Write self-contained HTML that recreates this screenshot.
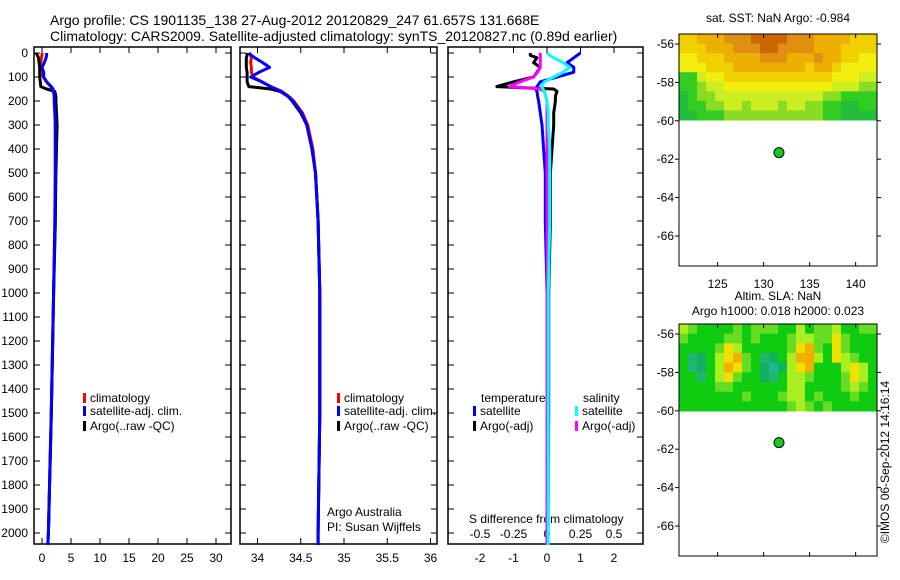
<!DOCTYPE html>
<html><head><meta charset="utf-8"><style>
body{margin:0;background:#fff}
svg{display:block;font-family:"Liberation Sans",sans-serif}
text{font-size:12px;fill:#000}
</style></head><body>
<svg id="c" width="900" height="580" viewBox="0 0 900 580">
<text x="50" y="25" style="font-size:14px">Argo profile: CS 1901135_138 27-Aug-2012 20120829_247 61.657S 131.668E</text>
<text x="50" y="41" style="font-size:14px">Climatology: CARS2009. Satellite-adjusted climatology: synTS_20120827.nc (0.89d earlier)</text>
<text x="778" y="22" text-anchor="middle">sat. SST: NaN Argo: -0.984</text>
<text x="778" y="300" text-anchor="middle">Altim. SLA: NaN</text>
<text x="778" y="315" text-anchor="middle">Argo h1000: 0.018 h2000: 0.023</text>
<text transform="translate(889,462) rotate(-90)" text-anchor="middle">©IMOS 06-Sep-2012 14:16:14</text>
<text x="327" y="516">Argo Australia</text>
<text x="327" y="531">PI: Susan Wijffels</text>
<text x="469" y="523">S difference from climatology</text>
<g id="g"></g>
</svg>
<script>
const depths=[0,10,20,40,60,80,100,120,140,150,160,180,200,250,300,400,500,700,1000,1500,2000,2050];
const tClim=[0,0,-0.1,-0.2,-0.2,-0.1,0.2,0.8,1.5,1.8,2.0,2.1,2.2,2.3,2.3,2.3,2.3,2.3,2.0,1.6,1.1,1.0];
const tSat=[0.8,0.8,0.7,0.4,0,0.3,0.3,0.8,1.6,1.9,2.0,2.1,2.1,2.2,2.3,2.3,2.3,2.2,2.0,1.6,1.1,1.0];
const tArgo=[-1,-0.8,-0.6,-0.5,-0.4,-0.4,-0.4,-0.3,-0.2,0.8,2.2,2.4,2.4,2.5,2.6,2.5,2.4,2.3,2.0,1.6,1.1,1.0];
const sClim=[33.91,33.92,33.93,33.92,33.93,33.93,33.95,34.05,34.15,34.22,34.28,34.36,34.42,34.52,34.58,34.64,34.67,34.7,34.72,34.72,34.7,34.7];
const sSat=[33.9,33.93,33.97,34.06,34.14,34.02,33.92,34.05,34.15,34.21,34.27,34.35,34.41,34.51,34.57,34.63,34.67,34.7,34.72,34.72,34.7,34.7];
const sArgo=[33.88,33.88,33.87,33.87,33.87,33.88,33.88,33.88,33.9,34.15,34.26,34.35,34.4,34.5,34.57,34.63,34.67,34.7,34.72,34.72,34.7,34.7];
const dTSat=[1.0,0.9,0.8,0.6,0.8,0.8,0.3,-0.2,-0.3,-0.35,-0.3,-0.28,-0.25,-0.2,-0.15,-0.1,-0.05,-0.05,0,0,0,0];
const dTArgo=[-0.5,-0.5,-0.3,-0.4,-0.2,-0.3,-0.4,-1.0,-1.5,0.2,0.3,0.25,0.25,0.2,0.2,0.15,0.1,0.1,0.05,0.05,0.03,0.03];
const dSSat=[0,0.02,0.05,0.12,0.17,0.12,0.05,-0.02,-0.04,-0.03,-0.02,-0.01,0,0.01,0.01,0.02,0.02,0.02,0.01,0.01,0.01,0.01];
const dSArgo=[-0.05,-0.05,-0.05,-0.05,-0.05,-0.07,-0.1,-0.2,-0.28,-0.05,-0.02,-0.01,0,0,0,0,0,0,0,0,0,0];
const depthTicks=[0,100,200,300,400,500,600,700,800,900,1000,1100,1200,1300,1400,1500,1600,1700,1800,1900,2000];
const tTicks=[0,5,10,15,20,25,30];
const sTicks=[34,34.5,35,35.5,36];
const dTicks=[-2,-1,0,1,2];
const dSTickLabels=["-0.5","-0.25","0","0.25","0.5"];
const dSTickVals=[-0.5,-0.25,0,0.25,0.5];
const latTicks=[-56,-58,-60,-62,-64,-66];
const lonTicks=[125,130,135,140];
const argoPos=[131.668,-61.657];
const sstGrid=["6677788899998887777666","6667778889988887776666","5566677778887778776655","5556667777777767765555","2245566666666666655544","2234455555555555544433","1233444444444444332222","1223344344434433221122","1122233333333333221111"];
const slaGrid=["6544445455544645564455","5444455454445665585444","4444586444445895485444","4324689543246996486544","4324698542126894446864","4434685442346654445864","4444554444446644445654","4444444544456645444544","4444444444445654544444"];

const NS='http://www.w3.org/2000/svg', G=document.getElementById('g');
function el(t,a,p){const e=document.createElementNS(NS,t);for(const k in a)e.setAttribute(k,a[k]);(p||G).appendChild(e);return e;}
const yD=d=>53+d*0.24;
const xT=v=>42+v*5.8, xS=v=>257.5+(v-34)*86.5, xD=v=>547+v*33.5, xDS=v=>547+v*134;
function panel(x0,x1,name){const r=el('rect',{x:x0,y:47,width:x1-x0,height:497,fill:'none',stroke:'#000','stroke-width':1.5});
}
function line(xs,fx,col,name,w){let p=xs.map((v,i)=>(i?'L':'M')+fx(v).toFixed(1)+','+yD(depths[i]).toFixed(1)).join('');
const e=el('path',{d:p,fill:'none',stroke:col,'stroke-width':w||3,'stroke-linejoin':'round'});
}
function xticks(vals,labels,fx,x0,x1){vals.forEach((v,i)=>{const x=fx(v);
el('line',{x1:x,x2:x,y1:47,y2:53,stroke:'#000'});el('line',{x1:x,x2:x,y1:538,y2:544,stroke:'#000'});
const t=el('text',{x:x,y:562,'text-anchor':'middle'});t.textContent=labels[i];
});}
panel(34,231,'temperature-panel');panel(240,437,'salinity-panel');panel(448,643,'difference-panel');
depthTicks.forEach(d=>{const y=yD(d);const t=el('text',{x:28,y:y+4,'text-anchor':'end'});t.textContent=d;

[[34,40],[225,231],[240,246],[431,437],[448,454],[637,643]].forEach(s=>el('line',{x1:s[0],x2:s[1],y1:y,y2:y,stroke:'#000'}));});
xticks(tTicks,tTicks,xT,34,231);xticks(sTicks,sTicks,xS,240,437);
dTicks.forEach(v=>{const x=xD(v);el('line',{x1:x,x2:x,y1:47,y2:53,stroke:'#000'});const t=el('text',{x:x,y:562,'text-anchor':'middle'});t.textContent=v;});
dSTickVals.forEach((v,i)=>{const t=el('text',{x:xDS(v),y:538,'text-anchor':'middle'});t.textContent=dSTickLabels[i];});
line(tClim,xT,'#f00','temp-clim');line(tArgo,xT,'#000','temp-argo');line(tSat,xT,'#00f','temp-sat');
line(sClim,xS,'#f00','sal-clim');line(sArgo,xS,'#000','sal-argo');line(sSat,xS,'#00f','sal-sat');
line(dTArgo,xD,'#000','tdiff-argo');line(dTSat,xD,'#00f','tdiff-sat');line(dSArgo,xDS,'#f0f','sdiff-argo');line(dSSat,xDS,'#0ff','sdiff-sat');
function leg(x,y,col,txt,name){el('rect',{x:x,y:y-9,width:3,height:10,fill:col});const t=el('text',{x:x+7,y:y});t.textContent=txt;}
[[83],[337]].forEach(([x])=>{leg(x,402,'#f00','climatology','legend-climatology');leg(x,415,'#00f','satellite-adj. clim.','legend-satellite');leg(x,430,'#000','Argo(..raw -QC)','legend-argo');});
let t=el('text',{x:481,y:402});t.textContent='temperature';
t=el('text',{x:583,y:402});t.textContent='salinity';
leg(473,415,'#00f','satellite','legend-t-sat');leg(473,430,'#000','Argo(-adj)','legend-t-argo');
leg(575,415,'#0ff','satellite','legend-s-sat');leg(575,430,'#f0f','Argo(-adj)','legend-s-argo');
const sstCols=['#1fb58f','#22c03a','#33cc22','#88dd22','#ccee22','#f2ee10','#f0d000','#eeb000','#e09010','#cc6600'];
const slaCols=['#20c0a0','#20b890','#10b060','#20b870','#10cc10','#66dd22','#aaee20','#ddee10','#f0e000','#f0b000'];
function map(y0,y1,latA,latB,grid,cols,dy,name){const X0=679,X1=877;const lon=v=>X0+(v-120.8)*9.2;const lat=v=>latA+(-56-v)*((latB-latA)/10);
const gr=el('g',{});
const rows=grid.length,ncol=grid[0].length,ch=(y1-y0)/rows,cw=(X1-X0)/ncol;
grid.forEach((r,i)=>[...r].forEach((c,j)=>el('rect',{x:X0+j*cw,y:y0+i*ch,width:cw+0.5,height:ch+0.5,fill:cols[+c]},gr)));
const top=latA-10,bot=latB+30;
el('rect',{x:X0,y:top,width:X1-X0,height:bot-top,fill:'none',stroke:'#000'},gr);
latTicks.forEach(v=>{const y=lat(v);el('line',{x1:X0,x2:X0-4,y1:y,y2:y,stroke:'#000'},gr);el('line',{x1:X1,x2:X1+4,y1:y,y2:y,stroke:'#000'},gr);
const tt=el('text',{x:674,y:y+4,'text-anchor':'end'},gr);tt.textContent=v;});
lonTicks.forEach(v=>{const x=lon(v);el('line',{x1:x,x2:x,y1:top,y2:top+4,stroke:'#000'},gr);el('line',{x1:x,x2:x,y1:bot,y2:bot-4,stroke:'#000'},gr);
if(dy){const tt=el('text',{x:x,y:dy,'text-anchor':'middle'},gr);tt.textContent=v;}});
const d=el('circle',{cx:lon(argoPos[0]),cy:lat(argoPos[1]),r:5,fill:'#1c2',stroke:'#000'},gr);}
map(34,120,44,236,sstGrid,sstCols,288,'sst-map');
map(324,411,334,526,slaGrid,slaCols,0,'sla-map');
</script>
</body></html>
